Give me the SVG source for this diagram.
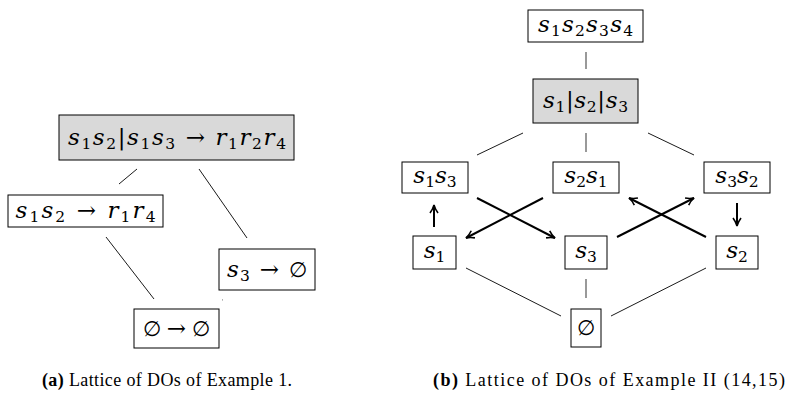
<svg xmlns="http://www.w3.org/2000/svg" width="795" height="393" viewBox="0 0 795 393">
<style>
.n{fill:#fff;stroke:#000;stroke-width:1}
.g{fill:#d9d9d9;stroke:#000;stroke-width:1}
.t{font-family:"DejaVu Serif",serif;font-size:23px;font-style:italic;fill:#000;text-anchor:middle}
.u{font-style:normal}
.s{font-size:15.5px;font-style:normal}
.e{font-family:"DejaVu Serif",serif;font-style:normal;font-size:21px}
.l{stroke:#000;stroke-width:0.9;fill:none}
.gl{stroke:#555;stroke-width:1.2;fill:none}
.a{stroke:#000;stroke-width:2;fill:none;marker-end:url(#ah)}
.cap{font-family:"Liberation Serif",serif;font-size:18px;fill:#000}
.capb{font-weight:bold}
</style>
<defs>
<marker id="ah" viewBox="0 0 10 10" refX="9" refY="5" markerWidth="5" markerHeight="5" orient="auto" markerUnits="strokeWidth">
<path d="M1,1 Q5,4 9,5 Q5,6 1,9" fill="none" stroke="#000" stroke-width="1.6"/>
</marker>
</defs>
<g id="connectors">
<line class="l" x1="137" y1="169" x2="119" y2="184"/>
<line class="l" x1="199" y1="169" x2="247" y2="238"/>
<line class="l" x1="106" y1="237" x2="154" y2="299"/>
<line class="l" x1="222" y1="299.5" x2="222.6" y2="300"/>
<line class="gl" x1="586" y1="52" x2="586" y2="69"/>
<line class="gl" x1="586" y1="133" x2="586" y2="152"/>
<line class="l" x1="523" y1="133" x2="477" y2="155"/>
<line class="l" x1="648" y1="133" x2="694" y2="155"/>
<line class="gl" x1="586" y1="279" x2="586" y2="298"/>
<line class="l" x1="466" y1="268" x2="561" y2="316"/>
<line class="l" x1="706" y1="268" x2="611" y2="316"/>
<line class="a" x1="434" y1="227" x2="434" y2="205"/>
<line class="a" x1="737" y1="203" x2="737" y2="226"/>
<line class="a" x1="477" y1="198" x2="555" y2="238"/>
<line class="a" x1="543" y1="198" x2="466" y2="238"/>
<line class="a" x1="617" y1="237" x2="694" y2="198"/>
<line class="a" x1="706" y1="237" x2="629" y2="198"/>
</g>
<g id="a_top">
<rect class="g" x="59" y="115" width="235" height="45"/>
<text class="t" x="177" y="145" textLength="218" lengthAdjust="spacing">s<tspan class="s" dy="4">1</tspan><tspan dy="-4">s</tspan><tspan class="s" dy="4">2</tspan><tspan class="u" dy="-4">|</tspan>s<tspan class="s" dy="4">1</tspan><tspan dy="-4">s</tspan><tspan class="s" dy="4">3</tspan><tspan class="u" dy="-4"> → </tspan>r<tspan class="s" dy="4">1</tspan><tspan dy="-4">r</tspan><tspan class="s" dy="4">2</tspan><tspan dy="-4">r</tspan><tspan class="s" dy="4">4</tspan></text>
</g>
<g id="a_s1s2">
<rect class="n" x="8" y="195" width="155" height="32"/>
<text class="t" x="85.5" y="218" textLength="140" lengthAdjust="spacing">s<tspan class="s" dy="4">1</tspan><tspan dy="-4">s</tspan><tspan class="s" dy="4">2</tspan><tspan class="u" dy="-4"> → </tspan>r<tspan class="s" dy="4">1</tspan><tspan dy="-4">r</tspan><tspan class="s" dy="4">4</tspan></text>
</g>
<g id="a_s3">
<rect class="n" x="219" y="249" width="96" height="41"/>
<text class="t" x="267" y="277" textLength="80" lengthAdjust="spacing">s<tspan class="s" dy="4">3</tspan><tspan class="u" dy="-4"> → </tspan><tspan class="e">∅</tspan></text>
</g>
<g id="a_empty">
<rect class="n" x="134" y="309" width="85" height="39"/>
<text class="t" x="176.5" y="336" textLength="67" lengthAdjust="spacing"><tspan class="e">∅</tspan><tspan class="u"> → </tspan><tspan class="e">∅</tspan></text>
</g>
<g id="b_top">
<rect class="n" x="528" y="10" width="115" height="32"/>
<text class="t" x="585.5" y="32" textLength="95" lengthAdjust="spacing">s<tspan class="s" dy="4">1</tspan><tspan dy="-4">s</tspan><tspan class="s" dy="4">2</tspan><tspan dy="-4">s</tspan><tspan class="s" dy="4">3</tspan><tspan dy="-4">s</tspan><tspan class="s" dy="4">4</tspan></text>
</g>
<g id="b_gray">
<rect class="g" x="533" y="79" width="105" height="44"/>
<text class="t" x="585.5" y="108" textLength="85" lengthAdjust="spacing">s<tspan class="s" dy="4">1</tspan><tspan class="u" dy="-4">|</tspan>s<tspan class="s" dy="4">2</tspan><tspan class="u" dy="-4">|</tspan>s<tspan class="s" dy="4">3</tspan></text>
</g>
<g id="b_s1s3">
<rect class="n" x="402" y="162" width="66" height="31"/>
<text class="t" x="435" y="183">s<tspan class="s" dy="4">1</tspan><tspan dy="-4">s</tspan><tspan class="s" dy="4">3</tspan></text>
</g>
<g id="b_s2s1">
<rect class="n" x="553" y="162" width="66" height="31"/>
<text class="t" x="586" y="183">s<tspan class="s" dy="4">2</tspan><tspan dy="-4">s</tspan><tspan class="s" dy="4">1</tspan></text>
</g>
<g id="b_s3s2">
<rect class="n" x="704" y="162" width="66" height="31"/>
<text class="t" x="737" y="183">s<tspan class="s" dy="4">3</tspan><tspan dy="-4">s</tspan><tspan class="s" dy="4">2</tspan></text>
</g>
<g id="b_s1">
<rect class="n" x="413" y="236" width="43" height="33"/>
<text class="t" x="434.5" y="258">s<tspan class="s" dy="4">1</tspan></text>
</g>
<g id="b_s3">
<rect class="n" x="565" y="236" width="42" height="33"/>
<text class="t" x="586" y="258">s<tspan class="s" dy="4">3</tspan></text>
</g>
<g id="b_s2">
<rect class="n" x="716" y="236" width="42" height="33"/>
<text class="t" x="737" y="258">s<tspan class="s" dy="4">2</tspan></text>
</g>
<g id="b_empty">
<rect class="n" x="571" y="309" width="30" height="38"/>
<text class="t" x="586" y="335"><tspan class="e">∅</tspan></text>
</g>
<text class="cap" x="42" y="386" textLength="250" lengthAdjust="spacing"><tspan class="capb">(a)</tspan> Lattice of DOs of Example 1.</text>
<text class="cap" x="433" y="386" textLength="352" lengthAdjust="spacing"><tspan class="capb">(b)</tspan> Lattice of DOs of Example II (14,15)</text>
</svg>
